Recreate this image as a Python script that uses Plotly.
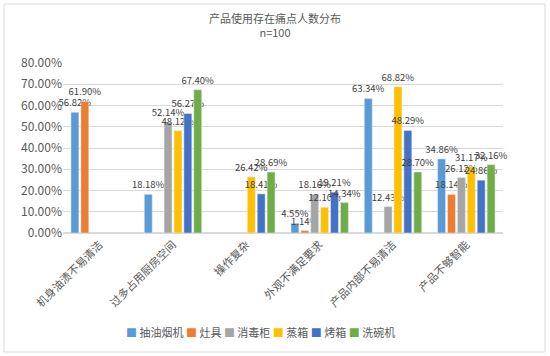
import plotly.graph_objects as go

categories = ["机身油渍不易清洁", "过多占用厨房空间", "操作复杂", "外观不满足要求", "产品内部不易清洁", "产品不够智能"]
series_names = ["抽油烟机", "灶具", "消毒柜", "蒸箱", "烤箱", "洗碗机"]
hood = [56.82, 18.18, None, 4.55, 63.34, 34.86]
stove = [61.90, None, None, 1.14, None, 18.14]
sterilizer = [None, 52.14, None, 18.16, 12.43, 26.12]
steamer = [None, 48.12, 26.42, 12.10, 68.82, 31.17]
oven = [None, 56.27, 18.41, 19.21, 48.29, 24.86]
dishwasher = [None, 67.40, 28.69, 14.34, 28.70, 32.16]
colors = ["#5B9BD5", "#ED7D31", "#A5A5A5", "#FFC000", "#4472C4", "#70AD47"]
y_ticks = [0, 0.1, 0.2, 0.3, 0.4, 0.5, 0.6, 0.7, 0.8]

series = [hood, stove, sterilizer, steamer, oven, dishwasher]
font = "Noto Sans CJK SC, Microsoft YaHei, sans-serif"

fig = go.Figure()
for name, vals, c in zip(series_names, series, colors):
    yv = [None if v is None else v / 100 for v in vals]
    fig.add_trace(go.Bar(
        x=categories, y=yv, name=name, marker_color=c,
        texttemplate="%{y:.2%}", textposition="outside",
        textfont=dict(size=9.5, color="#404040", family=font),
        cliponaxis=False, showlegend=False,
    ))

fig.update_layout(
    width=550, height=356,
    margin=dict(l=63, r=47, t=63, b=123),
    paper_bgcolor="white", plot_bgcolor="white",
    barmode="group", bargap=0.19, bargroupgap=0.2,
    title=dict(text="产品使用存在痛点人数分布<br>n=100", x=0.5, xanchor="center",
               y=0.935, yanchor="top",
               font=dict(size=11, color="#595959", family=font)),
    font=dict(family=font, color="#595959"),
    showlegend=False,
    uniformtext=dict(minsize=8, mode="show"),
)
fig.update_yaxes(range=[0, 0.8], tickvals=y_ticks, tickformat=".2%", automargin=False,
                 showgrid=True, gridcolor="#D9D9D9", gridwidth=1,
                 zeroline=True, zerolinecolor="#D9D9D9",
                 tickfont=dict(size=12, color="#595959"), ticks="", showline=False)
fig.update_xaxes(tickangle=-45, tickfont=dict(size=11, color="#595959"), automargin=False,
                 showline=True, linecolor="#D9D9D9", ticks="")

legend_text = " ".join(
    f'<span style="color:{c}">■</span> {n}' for n, c in zip(series_names, colors)
)
fig.add_annotation(text=legend_text, xref="paper", yref="paper",
                   x=(260 - 63) / 440, y=(233 - 332) / 170, xanchor="center", yanchor="middle",
                   showarrow=False, font=dict(size=11, color="#595959", family=font))

fig.add_shape(type="rect", xref="paper", yref="paper",
              x0=(4 - 63) / 440, x1=(545 - 63) / 440,
              y0=(233 - 352) / 170, y1=(233 - 4) / 170,
              line=dict(color="#D9D9D9", width=1), fillcolor="rgba(0,0,0,0)", layer="below")
fig.write_html("out.html", config={"displayModeBar": False},
               post_script="document.body.style.margin='0';")
